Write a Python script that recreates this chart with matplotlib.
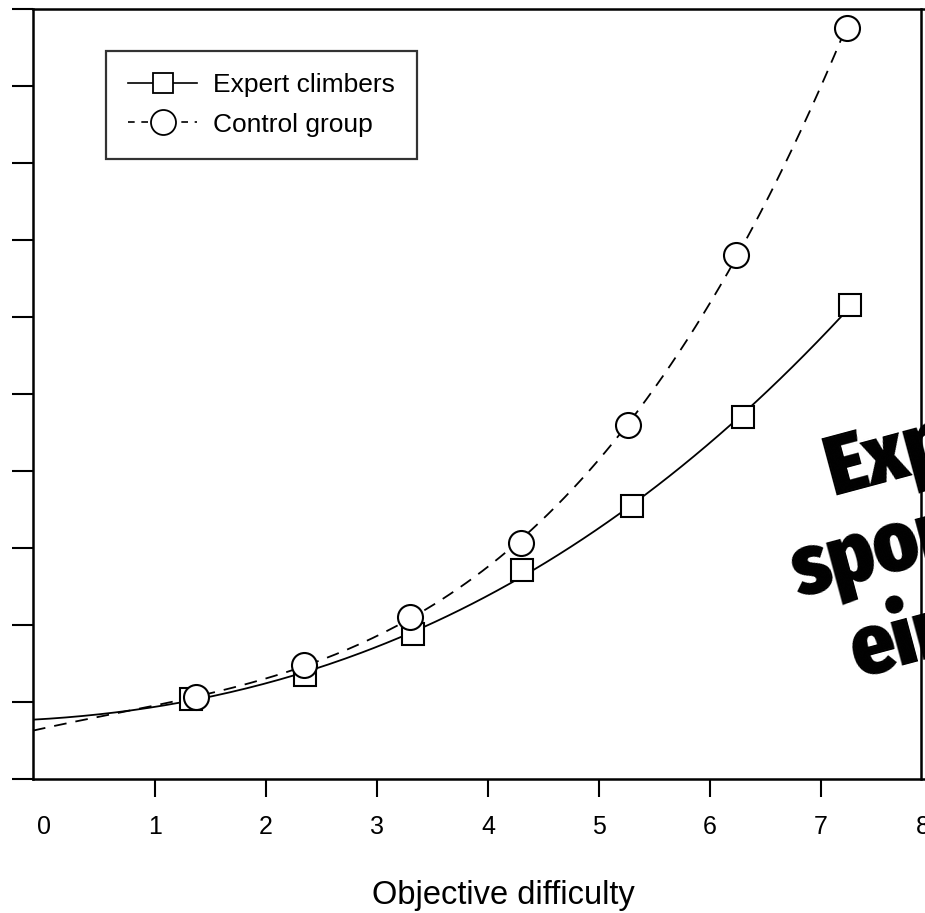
import numpy as np
import matplotlib
matplotlib.use("Agg")
import matplotlib.pyplot as plt
import matplotlib.transforms as mtransforms

# values
expert_x = [1.32, 2.35, 3.32, 4.31, 5.30, 6.30, 7.26]
expert_y = [1.04, 1.35, 1.88, 2.72, 3.55, 4.70, 6.15]
control_x = [1.37, 2.34, 3.30, 4.30, 5.26, 6.23, 7.23]
control_y = [1.07, 1.48, 2.10, 3.07, 4.60, 6.81, 9.75]
# where the fitted curves meet the y axis
expert_start = 0.77
control_start = 0.625
x_ticks = [0, 1, 2, 3, 4, 5, 6, 7, 8]
y_ticks = [0, 1, 2, 3, 4, 5, 6, 7, 8, 9, 10]
x_min = -0.1


def fit_curve(xs, ys, y0):
    # smooth cubic fit through the markers, like the curve in the paper
    px = np.r_[x_min, xs]
    py = np.r_[y0, ys]
    coef = np.polyfit(px, py, 3)
    xx = np.linspace(x_min, xs[-1], 200)
    return xx, np.polyval(coef, xx)


plt.rcParams['font.family'] = ['Liberation Sans', 'DejaVu Sans']

fig = plt.figure(figsize=(9.25, 9.13), dpi=100)
ax = fig.add_axes([33 / 925, 1 - 779 / 913, (932 - 33) / 925, (779 - 9) / 913])

ex, ey = fit_curve(expert_x, expert_y, expert_start)
cx, cy = fit_curve(control_x, control_y, control_start)
ax.plot(ex, ey, color='black', lw=1.3)
ax.plot(cx, cy, color='black', lw=1.3, dashes=(7, 5))
ax.plot(expert_x, expert_y, 's', ms=15.5, mfc='white', mec='black', mew=1.5)
ax.plot(control_x, control_y, 'o', ms=18, mfc='white', mec='black', mew=1.5)

# legend handles
h1, = ax.plot([], [], '-s', color='black', lw=1.2, ms=15, mfc='white', mew=1.3)
h2, = ax.plot([], [], 'o', color='black', lw=1.2, ms=18, mfc='white', mew=1.3,
              ls=(0, (4, 4)))
leg = ax.legend([h1, h2], ['Expert climbers', 'Control group'],
                loc='upper left', bbox_to_anchor=((106 - 33) / 899, 1 - (51 - 9) / 770),
                fontsize=19, frameon=True, fancybox=False, handlelength=2.6,
                handletextpad=0.6, borderpad=0.85, labelspacing=0.58,
                borderaxespad=0)
leg.get_frame().set_edgecolor('black')
leg.get_frame().set_linewidth(1.6)

ax.set_xlim(x_min, 8)
ax.set_ylim(0, 10)
ax.set_xticks(x_ticks)
ax.set_xticklabels([str(t) for t in x_ticks])
ax.set_yticks(y_ticks)
ax.set_yticklabels([])
ax.tick_params(axis='x', direction='out', length=13, width=1.5, labelsize=18, pad=13)
ax.tick_params(axis='y', direction='out', length=15, width=1.5)
ax.xaxis.get_major_ticks()[0].tick1line.set_visible(False)
# the last label sits a little left in the scan, so part of it shows
last = ax.xaxis.get_major_ticks()[-1].label1
last.set_transform(last.get_transform() +
                   mtransforms.ScaledTranslation(-9 / 100, 0, fig.dpi_scale_trans))
for s in ax.spines.values():
    s.set_linewidth(1.8)
ax.spines['right'].set_position(('data', 7.9))

ax.set_xlabel('Objective difficulty', fontsize=23.5)
ax.xaxis.set_label_coords((503 - 33) / 899, -(895 - 779) / 770)
ax.xaxis.label.set_va('center')

# overlaid stamp text, cut by the right edge
stamp = ['Experten', 'sportler', 'ein']
stamp_xy = [(833, 495), (800, 597), (858, 677)]
for word, (px, py) in zip(stamp, stamp_xy):
    fig.text(px / 925, 1 - py / 913, word, fontsize=61, fontweight=900,
             family=['Fira Sans Condensed', 'DejaVu Sans'], rotation=15,
             rotation_mode='anchor', ha='left', va='baseline', color='black')

fig.savefig('out.png', dpi=100)
